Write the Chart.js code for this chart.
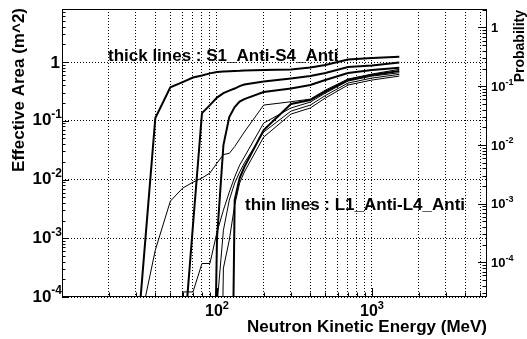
<!DOCTYPE html>
<html><head><meta charset="utf-8">
<script src="https://cdn.jsdelivr.net/npm/chart.js@4.4.1/dist/chart.umd.min.js"></script>
<style>html,body{margin:0;padding:0;background:#fff}canvas{display:block}</style>
</head><body>
<canvas id="c" width="527" height="339"></canvas>
<script>
// Neutron kinetic energy (MeV) sample points
const energies = [20,30,40,50,60,70,80,90,100,110,120,130,140,150,200,300,400,500,700,1000,1500];

// thick lines : S1_Anti - S4_Anti  (effective area, m^2)
const S1_Anti = [null,1.06e-5,0.111,0.371,0.456,0.545,0.589,0.642,0.676,0.689,0.695,0.703,0.708,0.717,0.731,0.745,0.806,0.889,1.10,1.17,1.23];
const S2_Anti = [null,null,null,null,9.8e-6,1.67e-3,0.135,0.185,0.248,0.296,0.327,0.354,0.390,0.414,0.465,0.524,0.577,0.650,0.822,0.872,0.98];
const S3_Anti = [null,null,null,null,null,null,null,1e-10,1.0e-3,0.0385,0.116,0.171,0.212,0.234,0.308,0.354,0.406,0.494,0.650,0.731,0.80];
const S4_Anti = [null,null,null,null,null,null,null,null,null,null,1e-10,4.46e-3,0.0106,0.0163,0.0695,0.193,0.225,0.314,0.494,0.600,0.703];

// thin lines : L1_Anti - L4_Anti
const L1_Anti = [null,1.7e-5,6.3e-4,4.28e-3,7.13e-3,9.0e-3,0.0106,0.0129,0.019,0.0266,0.0279,0.0363,0.0488,0.0642,0.185,0.211,0.234,0.333,0.513,0.625,0.751];
const L2_Anti = [null,null,null,1e-10,1.22e-4,1.22e-4,3.72e-4,3.72e-4,1.27e-3,3.01e-3,6.1e-3,0.011,0.0176,0.0241,0.0914,0.165,0.208,0.296,0.475,0.577,0.657];
const L3_Anti = [null,null,null,null,null,null,null,1e-10,7.2e-5,1.37e-3,4.46e-3,8.7e-3,0.0134,0.019,0.0642,0.146,0.185,0.269,0.439,0.534,0.617];
const L4_Anti = [null,null,null,null,null,null,null,null,1e-10,3.1e-4,9.3e-4,3.66e-3,8.7e-3,0.0134,0.0528,0.130,0.165,0.244,0.406,0.494,0.577];

const thickSeries = [S1_Anti,S2_Anti,S3_Anti,S4_Anti];
const thinSeries = [L1_Anti,L2_Anti,L3_Anti,L4_Anti];

// axis ranges
const xRange = [10, 5520];
const yRange = [1e-4, 8];
const probRange = [2.58e-5, 2.064];

// grid / tick values
const xGridValues = [20,30,40,50,60,70,80,90,100,200,300,400,500,600,700,800,900,1000,2000,3000,4000,5000];
const yGridValues = [1e-4,1e-3,1e-2,1e-1,1];
const xTickValues = [100,1000];
const xTickBase = ['10','10'];
const xTickExp = ['2','3'];
const yTickValues = [1,1e-1,1e-2,1e-3,1e-4];
const yTickBase = ['1','10','10','10','10'];
const yTickExp = ['','-1','-2','-3','-4'];
const pTickValues = [1,1e-1,1e-2,1e-3,1e-4];
const pTickBase = ['1','10','10','10','10'];
const pTickExp = ['','-1','-2','-3','-4'];

const xTitle = 'Neutron Kinetic Energy (MeV)';
const yTitle = 'Effective Area (m^2)';
const pTitle = 'Probability';
const note1 = 'thick lines : S1_Anti-S4_Anti';
const note2 = 'thin lines : L1_Anti-L4_Anti';

const FONT = '"Liberation Sans", Arial, Helvetica, sans-serif';

function toPoints(vals){ return energies.map((e,i)=>({x:e, y:vals[i]})); }

const datasets = [];
thickSeries.forEach(v=>datasets.push({data:toPoints(v), borderColor:'#000', borderWidth:2, pointRadius:0, tension:0, fill:false}));
thinSeries.forEach(v=>datasets.push({data:toPoints(v), borderColor:'#000', borderWidth:1, pointRadius:0, tension:0, fill:false}));

function drawPow(ctx, base, exp, x, y, align, bSize, eSize, eRise){
  ctx.font = `bold ${bSize}px ${FONT}`;
  const bw = ctx.measureText(base).width;
  ctx.font = `bold ${eSize}px ${FONT}`;
  const ew = exp ? ctx.measureText(exp).width : 0;
  const total = bw + ew;
  const x0 = align==='right' ? x-total : (align==='center' ? x-total/2 : x);
  ctx.textAlign='left'; ctx.textBaseline='middle';
  ctx.font = `bold ${bSize}px ${FONT}`;
  ctx.fillText(base, x0, y);
  if(exp){ ctx.font = `bold ${eSize}px ${FONT}`; ctx.fillText(exp, x0+bw, y-eRise); }
}

function minorValues(lo, hi){
  const out=[];
  for(let d=-6; d<=4; d++){
    for(let k=1;k<=9;k++){
      const v=k*Math.pow(10,d);
      if(v>=lo*0.9999 && v<=hi*1.0001) out.push({v, major:k===1});
    }
  }
  return out;
}

const bgPlugin = {
  id:'bg',
  beforeDraw(chart){
    const c=chart.ctx; c.save(); c.fillStyle='#fff'; c.fillRect(0,0,chart.width,chart.height); c.restore();
  }
};

const framePlugin = {
  id:'frame',
  afterDraw(chart){
    const ctx=chart.ctx, a=chart.chartArea;
    const xs=chart.scales.x, ys=chart.scales.y, ps=chart.scales.y2;
    ctx.save();
    ctx.strokeStyle='#000'; ctx.lineWidth=1; ctx.setLineDash([]);
    ctx.strokeRect(a.left+0.5, a.top+0.5, a.right-a.left-1, a.bottom-a.top-1);
    ctx.beginPath();
    // left ticks
    minorValues(yRange[0], yRange[1]).forEach(t=>{
      const y=Math.round(ys.getPixelForValue(t.v))+0.5;
      ctx.moveTo(a.left, y); ctx.lineTo(a.left+(t.major?7:3.5), y);
    });
    // right (probability) ticks
    minorValues(probRange[0], probRange[1]).forEach(t=>{
      const y=Math.round(ps.getPixelForValue(t.v))+0.5;
      ctx.moveTo(a.right, y); ctx.lineTo(a.right-(t.major?9:4.5), y);
    });
    // bottom ticks
    minorValues(xRange[0], xRange[1]).forEach(t=>{
      const x=Math.round(xs.getPixelForValue(t.v))+0.5;
      ctx.moveTo(x, a.bottom); ctx.lineTo(x, a.bottom-(t.major?9:4.5));
    });
    ctx.stroke();

    ctx.fillStyle='#000';
    // left tick labels
    yTickValues.forEach((v,i)=>{
      const y=ys.getPixelForValue(v);
      if(yTickExp[i]) drawPow(ctx, yTickBase[i], yTickExp[i], a.left, y, 'right', 17, 12, 6);
      else drawPow(ctx, yTickBase[i], '', a.left-2, y+1, 'right', 17, 12, 6);
    });
    // bottom tick labels
    xTickValues.forEach((v,i)=>{
      const x=xs.getPixelForValue(v);
      drawPow(ctx, xTickBase[i], xTickExp[i], x, a.bottom+15, 'center', 16, 11, 6);
    });
    // right tick labels
    pTickValues.forEach((v,i)=>{
      const y=ps.getPixelForValue(v);
      drawPow(ctx, pTickBase[i], pTickExp[i], a.right+4, y+1, 'left', 13, 9, 5);
    });

    // titles
    ctx.textBaseline='alphabetic';
    ctx.font=`bold 17px ${FONT}`;
    ctx.textAlign='right';
    ctx.fillText(xTitle, a.right, 332);
    ctx.save(); ctx.translate(24, 8); ctx.rotate(-Math.PI/2);
    ctx.textAlign='right'; ctx.fillText(yTitle, 0, 0); ctx.restore();
    ctx.save(); ctx.translate(524, 10); ctx.rotate(-Math.PI/2);
    ctx.font=`bold 14px ${FONT}`; ctx.textAlign='right'; ctx.fillText(pTitle, 0, 0); ctx.restore();

    // annotations
    ctx.font=`bold 17px ${FONT}`; ctx.textAlign='left';
    ctx.fillText(note1, 108, 61);
    ctx.fillText(note2, 245, 210);
    ctx.restore();
  }
};

new Chart(document.getElementById('c').getContext('2d'), {
  type:'line',
  data:{datasets},
  options:{
    responsive:false, animation:false, devicePixelRatio:1,
    layout:{padding:{top:9,left:0,right:0,bottom:0}},
    plugins:{legend:{display:false}, tooltip:{enabled:false}},
    scales:{
      x:{type:'logarithmic', position:'bottom', min:xRange[0], max:xRange[1],
        afterBuildTicks:s=>{ s.ticks = xGridValues.map(v=>({value:v})); },
        afterFit:s=>{ s.height=42; },
        ticks:{display:false},
        grid:{color:'#000', lineWidth:1, drawTicks:false},
        border:{display:false, dash:[1,2]}},
      y:{type:'logarithmic', position:'left', min:yRange[0], max:yRange[1],
        afterBuildTicks:s=>{ s.ticks = yGridValues.map(v=>({value:v})); },
        afterFit:s=>{ s.width=62; },
        ticks:{display:false},
        grid:{color:'#000', lineWidth:1, drawTicks:false},
        border:{display:false, dash:[1,2]}},
      y2:{type:'logarithmic', position:'right', min:probRange[0], max:probRange[1],
        afterFit:s=>{ s.width=40; },
        ticks:{display:false},
        grid:{display:false, drawTicks:false},
        border:{display:false}}
    }
  },
  plugins:[bgPlugin, framePlugin]
});
</script>
</body></html>
